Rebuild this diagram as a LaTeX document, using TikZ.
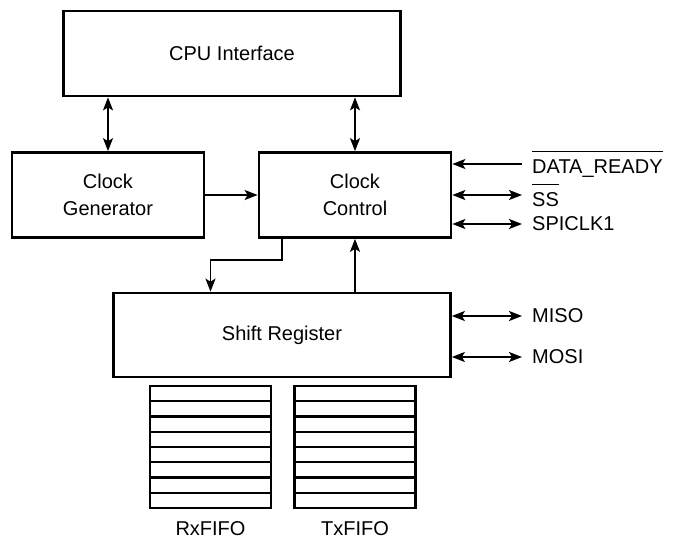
\documentclass[tikz,border=0pt]{standalone}
\usepackage{fontspec}
\setmainfont{Liberation Sans}
\usetikzlibrary{arrows.meta,positioning}
\tikzset{
  block/.style={draw, rectangle, line width=2.7pt, align=center},
  fifo/.style={draw, rectangle, line width=2.5pt, outer sep=0pt,
    minimum width=121pt, minimum height=122pt},
  link/.style={line width=1.9pt, >={Stealth[length=13pt,width=10pt,inset=3pt]}},
  signal/.style={anchor=west, inner xsep=10pt, inner ysep=1pt},
}
\newcommand{\barsig}[1]{\vbox{\hrule height 1.6pt\kern 7pt\hbox{#1}}}

\begin{document}
\begin{tikzpicture}[x=1pt,y=-1pt]
\fontsize{20}{27}\selectfont
\useasboundingbox (0,0) rectangle (674,538);
\node[block, minimum width=337pt, minimum height=85pt] (cpu) at (232,53.5) {CPU Interface};
\node[block, minimum width=192pt, minimum height=85pt] (clkgen) at (108,195) {Clock\\Generator};
\node[block, minimum width=192pt, minimum height=85pt] (clkctl) at (355,195) {Clock\\Control};
\node[block, minimum width=337pt, minimum height=84pt] (shift) at (282,335) {Shift Register};
\node[fifo] (rxfifo) at (210.5,447) {};
\node[fifo] (txfifo) at (355,447) {};
\node[below=7pt of rxfifo] (rxname) {RxFIFO};
\node[below=7pt of txfifo] (txname) {TxFIFO};

\node[signal] (dready) at (522,164) {\barsig{DATA\_READY}};
\node[signal] (ss) at (522,195) {\barsig{SS}};
\node[signal] (spiclk) at (522,224) {SPICLK1};
\node[signal] (miso) at (522,316) {MISO};
\node[signal] (mosi) at (522,357) {MOSI};

% fifo entries
\foreach \f in {rxfifo,txfifo}
  \foreach \i in {1,...,7}
    \path[draw,line width=2.2pt] ([yshift=-\i*15.25pt]\f.north west) -- ([yshift=-\i*15.25pt]\f.north east);

\path[draw,link,<->] (clkgen.north) -- (clkgen.north |- cpu.south);
\path[draw,link,<->] (clkctl.north) -- (clkctl.north |- cpu.south);
\path[draw,link,->] (clkgen) -- (clkctl);
\path[draw,link,<-] (clkctl.east |- dready.west) -- (dready.west);
\path[draw,link,<->] (clkctl.east |- ss.west) -- (ss.west);
\path[draw,link,<->] (clkctl.east |- spiclk.west) -- (spiclk.west);
\path[draw,link,->] (shift.north |- clkctl.south) -- ++(0,21) -| (rxfifo.north |- shift.north);
\path[draw,link,->] (clkctl.south |- shift.north) -- (clkctl.south);
\path[draw,link,<->] (shift.east |- miso.west) -- (miso.west);
\path[draw,link,<->] (shift.east |- mosi.west) -- (mosi.west);
\end{tikzpicture}
\end{document}
